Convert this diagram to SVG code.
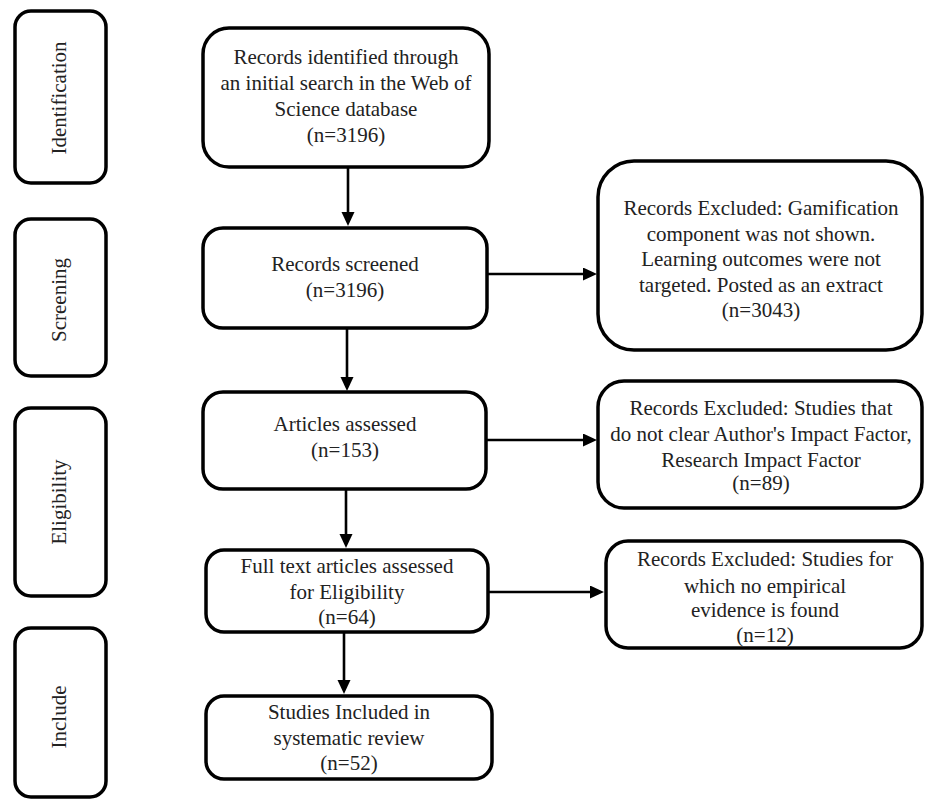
<svg xmlns="http://www.w3.org/2000/svg" width="928" height="801" viewBox="0 0 928 801">
<style>
.box{fill:#fff;stroke:#000;stroke-width:3.5}
.t{font-family:"Liberation Serif","DejaVu Serif",serif;font-size:21px;fill:#222;text-anchor:middle}
.c{stroke:#000;stroke-width:2.6;fill:none}
</style>
<defs>
<marker id="ah" markerUnits="userSpaceOnUse" markerWidth="15" markerHeight="14" refX="1" refY="6.5" orient="auto">
<path d="M0,0 L14,6.5 L0,13 z" fill="#000"/>
</marker>
</defs>
<rect width="928" height="801" fill="#fff"/>
<g id="stage-identification">
<rect class="box" x="15" y="11" width="91" height="172" rx="16"/>
<text class="t" transform="translate(66,98) rotate(-90)">Identification</text>
</g>
<g id="stage-screening">
<rect class="box" x="15" y="219" width="91" height="157" rx="16"/>
<text class="t" transform="translate(66,300) rotate(-90)">Screening</text>
</g>
<g id="stage-eligibility">
<rect class="box" x="15" y="408" width="91" height="188" rx="16"/>
<text class="t" transform="translate(66,502) rotate(-90)">Eligibility</text>
</g>
<g id="stage-include">
<rect class="box" x="15" y="628" width="91" height="169" rx="16"/>
<text class="t" transform="translate(66,717) rotate(-90)">Include</text>
</g>
<g id="records-identified">
<rect class="box" x="203" y="28" width="286" height="139" rx="26"/>
<text class="t" x="346" y="64">Records identified through</text>
<text class="t" x="346" y="90">an initial search in the Web of</text>
<text class="t" x="346" y="116">Science database</text>
<text class="t" x="346" y="142">(n=3196)</text>
</g>
<g id="records-screened">
<rect class="box" x="203" y="228" width="284" height="100" rx="20"/>
<text class="t" x="345" y="271">Records screened</text>
<text class="t" x="345" y="297">(n=3196)</text>
</g>
<g id="articles-assessed">
<rect class="box" x="203" y="392" width="283" height="97" rx="20"/>
<text class="t" x="345" y="431">Articles assessed</text>
<text class="t" x="345" y="457">(n=153)</text>
</g>
<g id="full-text">
<rect class="box" x="206" y="550" width="282" height="82" rx="18"/>
<text class="t" x="347" y="573">Full text articles assessed</text>
<text class="t" x="347" y="599">for Eligibility</text>
<text class="t" x="347" y="624">(n=64)</text>
</g>
<g id="included">
<rect class="box" x="206" y="696" width="286" height="83" rx="18"/>
<text class="t" x="349" y="719">Studies Included in</text>
<text class="t" x="349" y="745">systematic review</text>
<text class="t" x="349" y="770">(n=52)</text>
</g>
<g id="excluded-1">
<rect class="box" x="598" y="161" width="324" height="189" rx="36"/>
<text class="t" x="761" y="215">Records Excluded: Gamification</text>
<text class="t" x="761" y="241">component was not shown.</text>
<text class="t" x="761" y="266">Learning outcomes were not</text>
<text class="t" x="761" y="292">targeted. Posted as an extract</text>
<text class="t" x="761" y="317">(n=3043)</text>
</g>
<g id="excluded-2">
<rect class="box" x="598" y="381" width="324" height="127" rx="26"/>
<text class="t" x="761" y="415">Records Excluded: Studies that</text>
<text class="t" x="761" y="441">do not clear Author's Impact Factor,</text>
<text class="t" x="761" y="467">Research Impact Factor</text>
<text class="t" x="761" y="490">(n=89)</text>
</g>
<g id="excluded-3">
<rect class="box" x="606" y="541" width="316" height="107" rx="22"/>
<text class="t" x="765" y="566">Records Excluded: Studies for</text>
<text class="t" x="765" y="593">which no empirical</text>
<text class="t" x="765" y="617">evidence is found</text>
<text class="t" x="765" y="642">(n=12)</text>
</g>
<g id="connectors">
<line class="c" x1="348" y1="167" x2="348" y2="213" marker-end="url(#ah)"/>
<line class="c" x1="347" y1="328" x2="347" y2="378" marker-end="url(#ah)"/>
<line class="c" x1="346" y1="489" x2="346" y2="535" marker-end="url(#ah)"/>
<line class="c" x1="344" y1="632" x2="344" y2="681" marker-end="url(#ah)"/>
<line class="c" x1="487" y1="274" x2="584" y2="274" marker-end="url(#ah)"/>
<line class="c" x1="486" y1="440" x2="584" y2="440" marker-end="url(#ah)"/>
<line class="c" x1="488" y1="592" x2="591" y2="592" marker-end="url(#ah)"/>
</g>
</svg>
